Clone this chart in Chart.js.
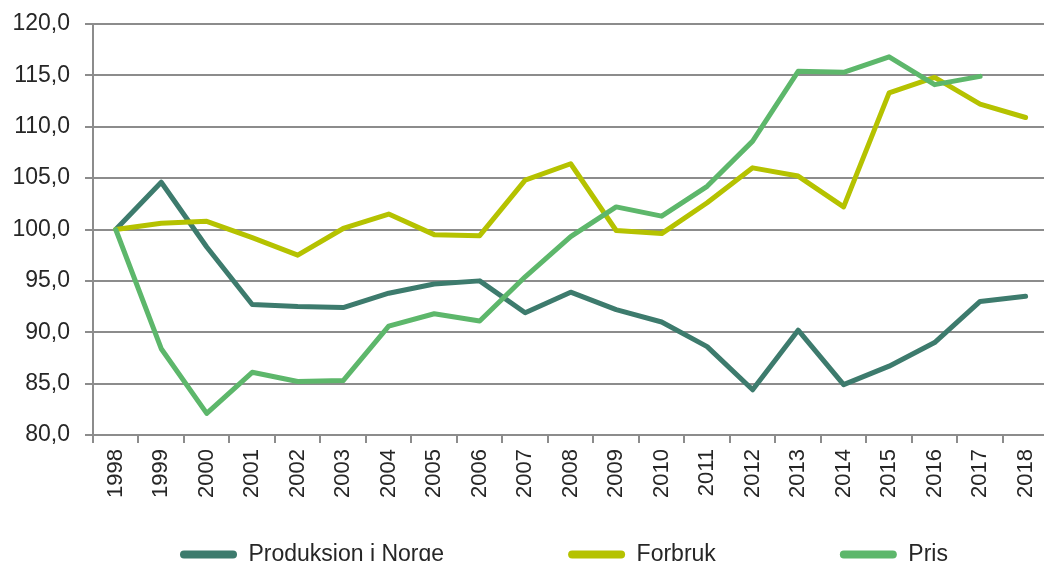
<!DOCTYPE html>
<html>
<head>
<meta charset="utf-8">
<script src="https://cdn.jsdelivr.net/npm/chart.js@4.4.1/dist/chart.umd.min.js"></script>
<style>
body { margin: 0; overflow: hidden; background: #fff; }
#wrap { width: 1058px; height: 561px; position: relative; }
</style>
</head>
<body>
<div id="wrap"><canvas id="myChart"></canvas></div>
<script>
const years = ['1998','1999','2000','2001','2002','2003','2004','2005','2006','2007','2008',
               '2009','2010','2011','2012','2013','2014','2015','2016','2017','2018'];
const produksjon = [100, 104.6, 98.3, 92.7, 92.5, 92.4, 93.8, 94.7, 95.0, 91.9, 93.9,
                    92.2, 91.0, 88.6, 84.4, 90.2, 84.9, 86.7, 89.0, 93.0, 93.5];
const forbruk = [100, 100.6, 100.8, 99.2, 97.5, 100.1, 101.5, 99.5, 99.4, 104.8, 106.4,
                 99.9, 99.6, 102.6, 106.0, 105.2, 102.2, 113.3, 114.8, 112.2, 110.9];
const pris = [100, 88.4, 82.1, 86.1, 85.2, 85.3, 90.6, 91.8, 91.1, 95.4, 99.3,
              102.2, 101.3, 104.2, 108.6, 115.4, 115.3, 116.8, 114.1, 114.9, null];
const seriesNames = ['Produksjon i Norge', 'Forbruk', 'Pris'];

const gridGray = '#8c8c8c';
const textColor = '#262626';
const fontFam = '"Liberation Sans", Arial, sans-serif';

// move the legend down/right like the excel original
const legendShift = {
  id: 'legendShift',
  afterLayout(chart) {
    const lg = chart.legend;
    const pad = lg.options.labels.padding;
    const startX = (lg.left + pad + lg.right - lg.lineWidths[0]) / 2;
    const dx = 180 - startX;
    lg.left += dx;
    lg.right += dx;
    lg.top = 543 - pad;
  }
};

function mkSet(label, data, color, order) {
  return {
    label: label,
    data: data,
    borderColor: color,
    backgroundColor: color,
    borderWidth: 5,
    pointRadius: 0,
    tension: 0,
    borderJoinStyle: 'round',
    borderCapStyle: 'round',
    order: order
  };
}

const ctx = document.getElementById('myChart');
const myChart = new Chart(ctx, {
  type: 'line',
  data: {
    labels: years,
    datasets: [
      mkSet(seriesNames[0], produksjon, '#3d7b6d', 3),
      mkSet(seriesNames[1], forbruk, '#b5c200', 2),
      mkSet(seriesNames[2], pris, '#5db76b', 1)
    ]
  },
  plugins: [legendShift],
  options: {
    responsive: true,
    maintainAspectRatio: false,
    animation: false,
    layout: { padding: { top: 24, left: 0, right: 0, bottom: 0 } },
    scales: {
      x: {
        offset: true,
        grid: { offset: true, drawOnChartArea: false, color: gridGray, lineWidth: 2, tickLength: 8 },
        border: { color: gridGray, width: 2 },
        ticks: {
          autoSkip: false,
          maxRotation: 90,
          minRotation: 90,
          padding: 6,
          color: textColor,
          font: { family: fontFam, size: 22 }
        },
        afterFit: (s) => { s.height = 71; }
      },
      y: {
        min: 80,
        max: 120,
        grid: { color: gridGray, lineWidth: 2, tickLength: 8 },
        border: { color: gridGray, width: 2 },
        ticks: {
          stepSize: 5,
          padding: 15,
          color: textColor,
          font: { family: fontFam, size: 23 },
          callback: (v) => v.toFixed(1).replace('.', ',')
        },
        afterFit: (s) => { s.width = 93; s.paddingTop = 0; }
      }
    },
    plugins: {
      tooltip: { enabled: false },
      legend: {
        display: true,
        position: 'bottom',
        maxHeight: 55,
        labels: {
          boxWidth: 57,
          boxHeight: 8,
          useBorderRadius: true,
          borderRadius: 4,
          padding: 124,
          color: textColor,
          font: { family: fontFam, size: 23 },
          sort: (a, b) => a.datasetIndex - b.datasetIndex,
          generateLabels: (chart) => Chart.defaults.plugins.legend.labels.generateLabels(chart)
            .map(l => Object.assign(l, { fillStyle: l.strokeStyle, lineWidth: 0 }))
        }
      }
    }
  }
});
</script>
</body>
</html>
